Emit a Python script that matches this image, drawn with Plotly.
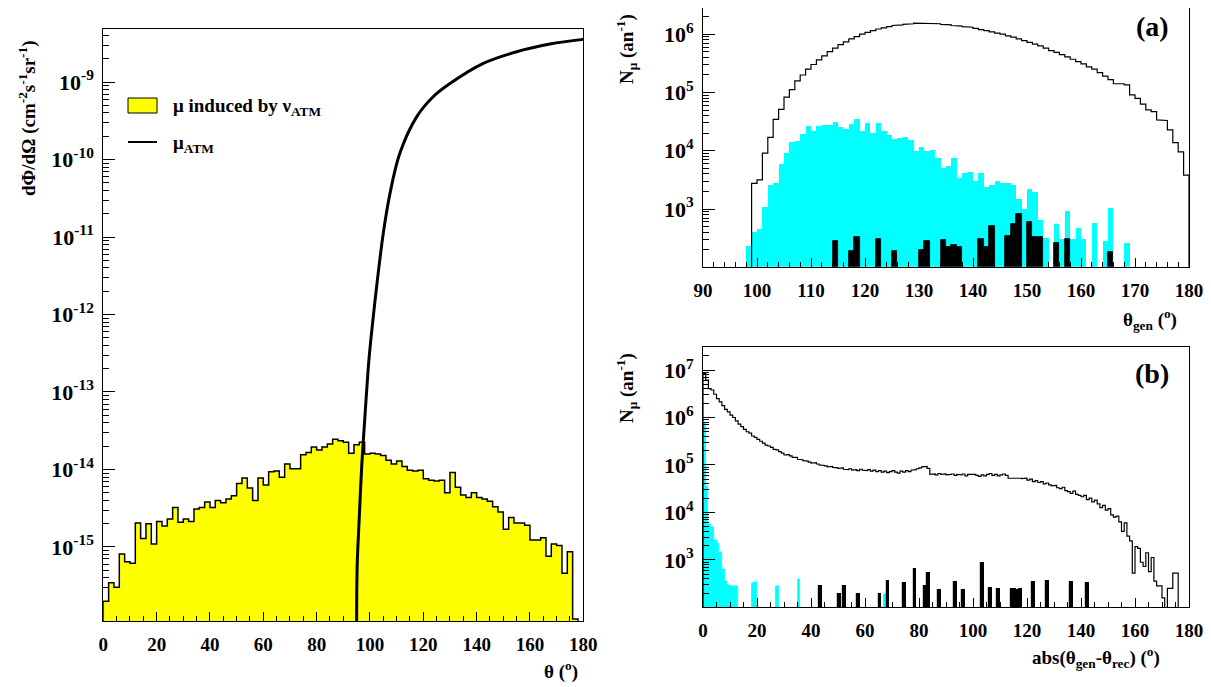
import numpy as np
import plotly.graph_objects as go

# The page body adds an 8px offset; the figure is sized to fit the 1211x687 window.
OFF = 8
W, H = 1211 - OFF, 687 - OFF
FONT = "Liberation Serif"

# ---------------- Left panel: dPhi/dOmega vs theta ----------------
left_edges = list(range(0, 182, 2))
# log10 of flux (cm^-2 s^-1 sr^-1), mu induced by nu_ATM, 2-degree bins
nu_induced_log10 = [
    -15.70, -15.46, -15.52, -15.09, -15.19, -15.21, -14.69, -14.89, -14.70, -14.96,
    -14.67, -14.73, -14.64, -14.49, -14.68, -14.64, -14.67, -14.51, -14.49, -14.42,
    -14.49, -14.40, -14.43, -14.38, -14.34, -14.18, -14.11, -14.24, -14.40, -14.11,
    -14.20, -14.03, -14.02, -14.10, -13.93, -13.99, -13.99, -13.81, -13.78, -13.71,
    -13.75, -13.71, -13.67, -13.61, -13.63, -13.65, -13.79, -13.68, -13.65, -13.80,
    -13.79, -13.80, -13.82, -13.88, -13.93, -13.89, -13.96, -14.01, -14.02, -14.01,
    -14.12, -14.14, -14.15, -14.14, -14.30, -14.04, -14.23, -14.33, -14.36, -14.30,
    -14.36, -14.38, -14.41, -14.48, -14.55, -14.77, -14.62, -14.69, -14.69, -14.72,
    -14.91, -14.91, -14.88, -15.12, -14.96, -14.98, -15.34, -15.06, -15.93, None,
]
# mu_ATM curve (theta in degrees, log10 flux)
mu_atm_theta = [95.0, 95.2, 96.0, 96.9, 98.1, 99.4, 100.3, 102.5, 105.0, 107.5,
                111.2, 117.5, 123.7, 130.0, 142.5, 155.0, 167.5, 180.0]
mu_atm_log10 = [-15.96, -15.25, -14.61, -13.96, -13.32, -12.67, -12.33, -11.64, -10.95, -10.44,
                -9.92, -9.45, -9.19, -9.02, -8.76, -8.61, -8.51, -8.45]

# ---------------- Panel (a): N_mu vs theta_gen ----------------
gen_edges = list(range(90, 181))
gen_all_log10 = [None] * 9 + [
    3.44, 3.50, 3.96, 4.23, 4.54, 4.71, 4.92, 5.05, 5.20,
    5.30, 5.40, 5.48, 5.56, 5.63, 5.70, 5.76, 5.82, 5.87, 5.92,
    5.96, 6.00, 6.03, 6.06, 6.09, 6.11, 6.13, 6.15, 6.16, 6.17,
    6.18, 6.19, 6.19, 6.19, 6.18, 6.18, 6.17, 6.16, 6.15, 6.14,
    6.13, 6.12, 6.10, 6.08, 6.06, 6.04, 6.02, 6.00, 5.97, 5.95,
    5.92, 5.89, 5.86, 5.83, 5.80, 5.76, 5.72, 5.69, 5.65, 5.61,
    5.57, 5.53, 5.49, 5.44, 5.40, 5.34, 5.28, 5.22, 5.15, 5.15,
    5.13, 4.96, 4.90, 4.80, 4.70, 4.67, 4.53, 4.52, 4.36, 4.14,
    3.98, 3.58,
]
gen_nu_log10 = {
    98: 2.37, 99: 2.61, 100: 2.65, 101: 3.03, 102: 3.42, 103: 3.45, 104: 3.77, 105: 3.96,
    106: 4.15, 107: 4.17, 108: 4.29, 109: 4.42, 110: 4.34, 111: 4.42, 112: 4.44, 113: 4.45,
    114: 4.50, 115: 4.41, 116: 4.37, 117: 4.46, 118: 4.54, 119: 4.34, 120: 4.47, 121: 4.31,
    122: 4.47, 123: 4.34, 124: 4.27, 125: 4.21, 126: 4.22, 127: 4.23, 128: 4.18, 129: 4.00,
    130: 4.06, 131: 4.00, 132: 4.01, 133: 3.87, 134: 3.70, 135: 3.74, 136: 3.87, 137: 3.54,
    138: 3.61, 139: 3.63, 140: 3.48, 141: 3.62, 142: 3.38, 143: 3.41, 144: 3.48, 145: 3.44,
    146: 3.44, 147: 3.41, 148: 3.18, 149: 3.00, 150: 3.35, 151: 3.29, 152: 2.82, 153: 2.51,
    155: 2.75, 156: 2.49, 157: 2.96, 158: 2.49, 159: 2.68, 160: 2.48, 162: 2.76, 164: 2.45,
    165: 3.01, 168: 2.41,
}
gen_rec_log10 = {
    114: 2.45, 117: 2.28, 118: 2.52, 122: 2.48, 125: 2.28, 130: 2.29, 131: 2.45, 134: 2.47,
    135: 2.35, 136: 2.38, 137: 2.35, 141: 2.48, 142: 2.35, 143: 2.71, 146: 2.54, 147: 2.74,
    148: 2.92, 150: 2.77, 151: 2.52, 152: 2.52, 155: 2.41, 157: 2.49, 165: 2.27,
}

# ---------------- Panel (b): N_mu vs |theta_gen - theta_rec| ----------------
diff_edges = list(range(0, 181))
diff_all_log10 = [
    6.93, 6.79, 6.61, 6.58, 6.49, 6.40, 6.33, 6.25, 6.17, 6.12,
    6.05, 6.00, 5.93, 5.86, 5.81, 5.75, 5.70, 5.67, 5.61, 5.58,
    5.54, 5.50, 5.46, 5.42, 5.40, 5.37, 5.33, 5.32, 5.28, 5.25,
    5.21, 5.22, 5.19, 5.16, 5.16, 5.12, 5.11, 5.09, 5.08, 5.06,
    5.04, 5.05, 5.02, 5.00, 4.99, 4.98, 4.96, 4.97, 4.95, 4.94,
    4.93, 4.94, 4.91, 4.90, 4.92, 4.89, 4.90, 4.88, 4.91, 4.89,
    4.88, 4.90, 4.87, 4.89, 4.86, 4.88, 4.85, 4.87, 4.84, 4.86,
    4.88, 4.85, 4.83, 4.87, 4.85, 4.88, 4.86, 4.89, 4.90, 4.92,
    4.94, 4.96, 4.97, 4.93, 4.80, 4.81, 4.79, 4.82, 4.80, 4.81,
    4.79, 4.80, 4.81, 4.78, 4.80, 4.79, 4.81, 4.77, 4.80, 4.79,
    4.80, 4.78, 4.76, 4.79, 4.77, 4.80, 4.82, 4.78, 4.80, 4.77,
    4.79, 4.81, 4.78, 4.72, 4.73, 4.72, 4.73, 4.72, 4.71, 4.72,
    4.68, 4.70, 4.65, 4.67, 4.63, 4.65, 4.60, 4.62, 4.58, 4.56,
    4.57, 4.52, 4.50, 4.53, 4.46, 4.44, 4.40, 4.45, 4.38, 4.36,
    4.33, 4.36, 4.27, 4.30, 4.22, 4.26, 4.18, 4.10, 4.15, 4.05,
    4.08, 3.95, 3.90, 3.92, 3.80, 3.60, 3.78, 3.50, 3.40, 2.72,
    3.28, 3.24, 2.95, 2.86, 3.15, 2.75, 3.05, 2.55, 2.45, 2.45,
    2.20, None, 2.40, 2.40, 2.72, 2.72, None, None, None, None,
]
diff_nu_log10 = {
    0: 5.88, 1: 4.56, 2: 3.74, 3: 3.69, 4: 3.42, 5: 3.34, 6: 3.15, 7: 2.80, 8: 2.54,
    9: 2.47, 10: 2.45, 11: 2.44, 12: 2.44, 18: 2.50, 19: 2.52, 27: 2.44, 35: 2.59, 67: 2.28,
}
diff_rec_log10 = {
    43: 2.45, 50: 2.28, 52: 2.45, 57: 2.28, 65: 2.28, 68: 2.54, 74: 2.50, 78: 2.80,
    82: 2.45, 83: 2.72, 87: 2.35, 93: 2.53, 96: 2.35, 103: 2.93, 106: 2.41, 109: 2.38,
    114: 2.39, 115: 2.38, 116: 2.36, 117: 2.38, 122: 2.53, 127: 2.55, 136: 2.53, 142: 2.50,
}

# ---------------- helpers (positions given in window pixels) ----------------
def px(x):
    return min(1.0, max(0.0, (x - OFF) / W))

def py(y):
    return min(1.0, max(0.0, 1 - (y - OFF) / H))

def step_xy(edges, logvals, floor_log):
    xs = [edges[0]]
    ys = [10 ** floor_log]
    for i, v in enumerate(logvals):
        yv = 10 ** (floor_log if v is None else v)
        xs += [edges[i], edges[i + 1]]
        ys += [yv, yv]
    xs.append(edges[-1])
    ys.append(10 ** floor_log)
    return xs, ys

def bars_from_dict(edges, d):
    w = edges[1] - edges[0]
    keys = sorted(d)
    return [k + w / 2 for k in keys], [10 ** d[k] for k in keys], w

fig = go.Figure()

# Left panel
lc = [(left_edges[i] + left_edges[i + 1]) / 2 for i in range(len(nu_induced_log10))]
fig.add_trace(go.Bar(
    x=lc, y=[None if v is None else 10 ** v for v in nu_induced_log10], width=2,
    marker=dict(color="#ffff00", line=dict(width=0)), xaxis="x", yaxis="y", showlegend=False))
sx, sy = step_xy(left_edges, nu_induced_log10, -18)
fig.add_trace(go.Scatter(x=sx, y=sy, mode="lines", line=dict(color="black", width=1.5),
                         xaxis="x", yaxis="y", showlegend=False))
fig.add_trace(go.Scatter(x=mu_atm_theta, y=[10 ** v for v in mu_atm_log10], mode="lines",
                         line=dict(color="black", width=3, shape="spline", smoothing=1.0),
                         xaxis="x", yaxis="y", showlegend=False))

# Panel (a)
bx, by, bw = bars_from_dict(gen_edges, gen_nu_log10)
fig.add_trace(go.Bar(x=bx, y=by, width=bw, marker=dict(color="#00ffff", line=dict(width=0)),
                     xaxis="x2", yaxis="y2", showlegend=False))
bx, by, bw = bars_from_dict(gen_edges, gen_rec_log10)
fig.add_trace(go.Bar(x=bx, y=by, width=bw,
                     marker=dict(color="black", line=dict(width=0.8, color="black")),
                     xaxis="x2", yaxis="y2", showlegend=False))
sx, sy = step_xy(gen_edges, gen_all_log10, 0)
fig.add_trace(go.Scatter(x=sx, y=sy, mode="lines", line=dict(color="black", width=1.2),
                         xaxis="x2", yaxis="y2", showlegend=False))

# Panel (b)
bx, by, bw = bars_from_dict(diff_edges, diff_nu_log10)
fig.add_trace(go.Bar(x=bx, y=by, width=bw,
                     marker=dict(color="#00ffff", line=dict(width=0.8, color="#00ffff")),
                     xaxis="x3", yaxis="y3", showlegend=False))
bx, by, bw = bars_from_dict(diff_edges, diff_rec_log10)
fig.add_trace(go.Bar(x=bx, y=by, width=bw,
                     marker=dict(color="black", line=dict(width=1.2, color="black")),
                     xaxis="x3", yaxis="y3", showlegend=False))
sx, sy = step_xy(diff_edges, diff_all_log10, 0)
fig.add_trace(go.Scatter(x=sx, y=sy, mode="lines", line=dict(color="black", width=1.2),
                         xaxis="x3", yaxis="y3", showlegend=False))

tickfont = dict(family=FONT, size=19, color="black", weight="bold")

def xax(domain, rng, dtick, minor_dtick, anchor):
    return dict(domain=domain, range=rng, anchor=anchor, tickmode="linear", tick0=rng[0],
                dtick=dtick, ticks="inside", ticklen=9, tickwidth=1, tickcolor="black",
                minor=dict(ticks="inside", ticklen=5, dtick=minor_dtick, tickcolor="black"),
                showline=True, linecolor="black", linewidth=1, mirror=True, showgrid=False,
                zeroline=False, tickfont=tickfont, ticklabelstandoff=6, automargin=False)

def yax(domain, rng, anchor, lo, hi):
    vals = [10.0 ** k for k in range(lo, hi + 1)]
    text = ["10<sup>%d</sup>" % k for k in range(lo, hi + 1)]
    return dict(domain=domain, range=rng, type="log", anchor=anchor, tickmode="array",
                tickvals=vals, ticktext=text, ticks="inside", ticklen=12, tickwidth=1,
                tickcolor="black",
                minor=dict(ticks="inside", ticklen=6, dtick="D1", tickcolor="black"),
                showline=True, linecolor="black", linewidth=1, mirror=True, showgrid=False,
                zeroline=False, tickfont=dict(family=FONT, size=22, color="black", weight="bold"),
                ticklabelstandoff=4, automargin=False)

fig.update_layout(
    width=W, height=H, autosize=False, margin=dict(l=0, r=0, t=0, b=0, pad=0),
    paper_bgcolor="white", plot_bgcolor="white",
    barmode="overlay", bargap=0, showlegend=False,
    xaxis=xax([px(103.3), px(583.3)], [0, 180], 20, 5, "y"),
    yaxis=yax([py(621), py(29.3)], [-15.955, -8.32], "x", -16, -9),
    xaxis2=xax([px(703), px(1189)], [90, 180], 10, 2, "y2"),
    yaxis2=yax([py(266.7), py(8.0)], [2.01, 6.45], "x2", 3, 6),
    xaxis3=xax([px(703), px(1189)], [0, 180], 20, 5, "y3"),
    yaxis3=yax([py(607.3), py(347.3)], [2.0, 7.48], "x3", 3, 7),
)

bold = dict(family=FONT, color="black", weight="bold")

def ann(text, x, y, size, angle=0, xanchor="center"):
    fig.add_annotation(text=text, x=px(x), y=py(y), xref="paper", yref="paper",
                       showarrow=False, textangle=angle, xanchor=xanchor, yanchor="middle",
                       font=dict(size=size, **bold))

ann("dΦ/dΩ (cm<sup>-2</sup>s<sup>-1</sup>sr<sup>-1</sup>)", 28, 118, 19, -90)
ann("θ (<sup>o</sup>)", 561, 670, 19)
ann("N<sub>μ</sub> (an<sup>-1</sup>)", 626, 49, 19, -90)
ann("N<sub>μ</sub> (an<sup>-1</sup>)", 626, 388, 19, -90)
ann("θ<sub>gen</sub> (<sup>o</sup>)", 1150, 320, 19)
ann("abs(θ<sub>gen</sub>-θ<sub>rec</sub>) (<sup>o</sup>)", 1096, 657, 19)
ann("(a)", 1152, 26, 28)
ann("(b)", 1152, 373, 28)

# legend
fig.add_shape(type="rect", xref="paper", yref="paper", x0=px(128), x1=px(157), y0=py(113), y1=py(98),
              fillcolor="#ffff00", line=dict(color="black", width=1))
fig.add_shape(type="line", xref="paper", yref="paper", x0=px(128), x1=px(157), y0=py(142), y1=py(142),
              line=dict(color="black", width=2))
ann("μ induced by ν<sub>ATM</sub>", 171, 107, 19, xanchor="left")
ann("μ<sub>ATM</sub>", 171, 144, 19, xanchor="left")

fig.write_html("out.html")
